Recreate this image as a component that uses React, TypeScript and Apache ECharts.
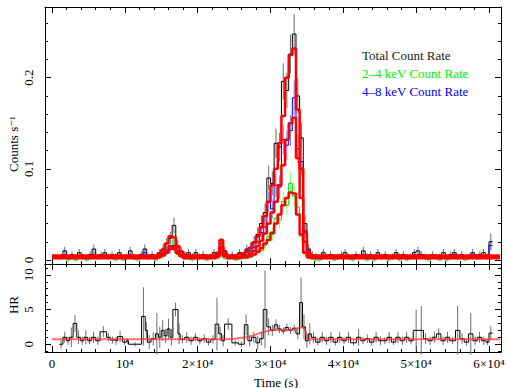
import React, { useEffect, useRef } from "react";
import * as echarts from "echarts";

// ---- light-curve binning (time grid) ----
const BIN_START = 1000;
const BIN_WIDTH = 500;

// Total count rate (counts/s) per 500 s bin
const totalRate = [
  0.004, 0.010, 0.002, 0.006, 0.002, 0.008, 0.004, 0.002, 0.006, 0.012,
  0.004, 0.006, 0.008, 0.004, 0.006, 0.004, 0.008, 0.002, 0.004, 0.010,
  0.004, 0.002, 0.006, 0.012, 0.004, 0.006, 0.002, 0.008, 0.012, 0.018,
  0.024, 0.038, 0.016, 0.010, 0.006, 0.008, 0.004, 0.008, 0.004, 0.006,
  0.002, 0.004, 0.008, 0.006, 0.018, 0.010, 0.004, 0.006, 0.004, 0.008,
  0.006, 0.012, 0.014, 0.020, 0.028, 0.040, 0.052, 0.090, 0.084, 0.128,
  0.124, 0.196, 0.186, 0.226, 0.248, 0.180, 0.134, 0.040, 0.012, 0.006,
  0.004, 0.002, 0.008, 0.004, 0.006, 0.002, 0.004, 0.006, 0.008, 0.004,
  0.002, 0.006, 0.004, 0.010, 0.004, 0.006, 0.002, 0.008, 0.004, 0.006,
  0.002, 0.004, 0.008, 0.004, 0.006, 0.002, 0.004, 0.008, 0.010, 0.006,
  0.004, 0.002, 0.006, 0.004, 0.004, 0.008, 0.002, 0.006, 0.008, 0.004,
  0.006, 0.002, 0.004, 0.008, 0.004, 0.006, 0.008, 0.004, 0.020,
];
const totalErr = [
  0.003, 0.0045, 0.002, 0.0035, 0.002, 0.004, 0.003, 0.002, 0.0035, 0.005,
  0.003, 0.0035, 0.004, 0.003, 0.0035, 0.003, 0.004, 0.002, 0.003, 0.0045,
  0.003, 0.002, 0.0035, 0.005, 0.003, 0.0035, 0.002, 0.004, 0.005, 0.006,
  0.007, 0.0087, 0.0057, 0.0045, 0.0035, 0.004, 0.003, 0.004, 0.003, 0.0035,
  0.002, 0.003, 0.004, 0.0035, 0.006, 0.0045, 0.003, 0.0035, 0.003, 0.004,
  0.0035, 0.005, 0.0053, 0.0063, 0.0075, 0.009, 0.010, 0.0134, 0.013, 0.016,
  0.0157, 0.0198, 0.0193, 0.0213, 0.022, 0.019, 0.0164, 0.009, 0.005, 0.0035,
  0.003, 0.002, 0.004, 0.003, 0.0035, 0.002, 0.003, 0.0035, 0.004, 0.003,
  0.002, 0.0035, 0.003, 0.0045, 0.003, 0.0035, 0.002, 0.004, 0.003, 0.0035,
  0.002, 0.003, 0.004, 0.003, 0.0035, 0.002, 0.003, 0.004, 0.0045, 0.0035,
  0.003, 0.002, 0.0035, 0.003, 0.003, 0.004, 0.002, 0.0035, 0.004, 0.003,
  0.0035, 0.002, 0.003, 0.004, 0.003, 0.0035, 0.004, 0.003, 0.009,
];
// 2-4 keV count rate
const softRate = [
  0.002, 0.004, 0.000, 0.002, 0.000, 0.004, 0.002, 0.000, 0.002, 0.004,
  0.002, 0.002, 0.004, 0.002, 0.002, 0.000, 0.004, 0.000, 0.002, 0.004,
  0.002, 0.000, 0.002, 0.004, 0.002, 0.002, 0.000, 0.004, 0.004, 0.008,
  0.012, 0.022, 0.006, 0.004, 0.002, 0.002, 0.000, 0.004, 0.002, 0.002,
  0.000, 0.002, 0.004, 0.002, 0.006, 0.002, 0.002, 0.002, 0.000, 0.002,
  0.002, 0.002, 0.004, 0.006, 0.008, 0.010, 0.016, 0.026, 0.028, 0.046,
  0.044, 0.064, 0.060, 0.084, 0.070, 0.058, 0.026, 0.008, 0.002, 0.002,
  0.000, 0.000, 0.004, 0.002, 0.002, 0.000, 0.002, 0.002, 0.004, 0.002,
  0.000, 0.002, 0.002, 0.004, 0.000, 0.002, 0.000, 0.004, 0.002, 0.002,
  0.000, 0.002, 0.004, 0.000, 0.002, 0.000, 0.002, 0.002, 0.004, 0.002,
  0.002, 0.000, 0.002, 0.002, 0.000, 0.004, 0.000, 0.002, 0.002, 0.002,
  0.002, 0.000, 0.002, 0.002, 0.002, 0.002, 0.004, 0.002, 0.004,
];
const softErr = [
  0.002, 0.003, 0.002, 0.002, 0.002, 0.003, 0.002, 0.002, 0.002, 0.003,
  0.002, 0.002, 0.003, 0.002, 0.002, 0.002, 0.003, 0.002, 0.002, 0.003,
  0.002, 0.002, 0.002, 0.003, 0.002, 0.002, 0.002, 0.003, 0.003, 0.004,
  0.005, 0.0066, 0.0035, 0.003, 0.002, 0.002, 0.002, 0.003, 0.002, 0.002,
  0.002, 0.002, 0.003, 0.002, 0.0035, 0.002, 0.002, 0.002, 0.002, 0.002,
  0.002, 0.002, 0.003, 0.0035, 0.004, 0.0045, 0.0057, 0.0072, 0.0075, 0.0096,
  0.0094, 0.0113, 0.011, 0.013, 0.0118, 0.0108, 0.0072, 0.004, 0.002, 0.002,
  0.002, 0.002, 0.003, 0.002, 0.002, 0.002, 0.002, 0.002, 0.003, 0.002,
  0.002, 0.002, 0.002, 0.003, 0.002, 0.002, 0.002, 0.003, 0.002, 0.002,
  0.002, 0.002, 0.003, 0.002, 0.002, 0.002, 0.002, 0.002, 0.003, 0.002,
  0.002, 0.002, 0.002, 0.002, 0.002, 0.003, 0.002, 0.002, 0.002, 0.002,
  0.002, 0.002, 0.002, 0.002, 0.002, 0.002, 0.003, 0.002, 0.003,
];
// 4-8 keV count rate
const hardRate = [
  0.002, 0.006, 0.002, 0.004, 0.002, 0.004, 0.002, 0.002, 0.004, 0.006,
  0.002, 0.004, 0.004, 0.002, 0.004, 0.004, 0.004, 0.002, 0.002, 0.006,
  0.002, 0.002, 0.004, 0.008, 0.002, 0.004, 0.002, 0.004, 0.008, 0.010,
  0.012, 0.016, 0.010, 0.006, 0.004, 0.006, 0.004, 0.004, 0.002, 0.004,
  0.002, 0.002, 0.004, 0.004, 0.012, 0.008, 0.002, 0.004, 0.004, 0.006,
  0.004, 0.010, 0.010, 0.014, 0.020, 0.030, 0.036, 0.064, 0.056, 0.082,
  0.080, 0.132, 0.126, 0.142, 0.178, 0.122, 0.108, 0.032, 0.010, 0.004,
  0.004, 0.002, 0.004, 0.002, 0.004, 0.002, 0.002, 0.004, 0.004, 0.002,
  0.002, 0.004, 0.002, 0.006, 0.004, 0.004, 0.002, 0.004, 0.002, 0.004,
  0.002, 0.002, 0.004, 0.004, 0.004, 0.002, 0.002, 0.006, 0.006, 0.004,
  0.002, 0.002, 0.004, 0.002, 0.004, 0.004, 0.002, 0.004, 0.006, 0.002,
  0.004, 0.002, 0.002, 0.006, 0.002, 0.004, 0.004, 0.002, 0.016,
];
const hardErr = [
  0.002, 0.0035, 0.002, 0.003, 0.002, 0.003, 0.002, 0.002, 0.003, 0.0035,
  0.002, 0.003, 0.003, 0.002, 0.003, 0.003, 0.003, 0.002, 0.002, 0.0035,
  0.002, 0.002, 0.003, 0.004, 0.002, 0.003, 0.002, 0.003, 0.004, 0.0045,
  0.005, 0.0057, 0.0045, 0.0035, 0.003, 0.0035, 0.003, 0.003, 0.002, 0.003,
  0.002, 0.002, 0.003, 0.003, 0.005, 0.004, 0.002, 0.003, 0.003, 0.0035,
  0.003, 0.0045, 0.0045, 0.0053, 0.0063, 0.0077, 0.0085, 0.0113, 0.0106, 0.0128,
  0.0126, 0.0162, 0.0159, 0.0169, 0.0189, 0.0156, 0.0147, 0.008, 0.0045, 0.003,
  0.003, 0.002, 0.003, 0.002, 0.003, 0.002, 0.002, 0.003, 0.003, 0.002,
  0.002, 0.003, 0.002, 0.0035, 0.003, 0.003, 0.002, 0.003, 0.002, 0.003,
  0.002, 0.002, 0.003, 0.003, 0.003, 0.002, 0.002, 0.0035, 0.0035, 0.003,
  0.002, 0.002, 0.003, 0.002, 0.003, 0.003, 0.002, 0.003, 0.0035, 0.002,
  0.003, 0.002, 0.002, 0.0035, 0.002, 0.003, 0.003, 0.002, 0.0057,
];

// Model curves (red): [time, rate] step points
const modelTotal = [
  [0, 0.005], [14500, 0.007], [15000, 0.011], [15500, 0.018], [16000, 0.026],
  [16500, 0.025], [17000, 0.015], [17500, 0.009], [18000, 0.006], [18500, 0.005],
  [22500, 0.008], [23000, 0.022], [23500, 0.008], [24000, 0.005], [25500, 0.006],
  [26000, 0.007], [26500, 0.009], [27000, 0.013], [27500, 0.019], [28000, 0.026],
  [28500, 0.036], [29000, 0.048], [29500, 0.064], [30000, 0.082], [30500, 0.100],
  [31000, 0.128], [31500, 0.158], [32000, 0.200], [32500, 0.225], [33000, 0.232],
  [33500, 0.165], [34000, 0.100], [34500, 0.030], [35000, 0.008], [35500, 0.005],
  [61500, 0.005],
];
const modelHard = [
  [0, 0.002], [14500, 0.003], [15000, 0.005], [15500, 0.008], [16000, 0.012],
  [16500, 0.012], [17000, 0.008], [17500, 0.004], [18000, 0.002], [22500, 0.004],
  [23000, 0.014], [23500, 0.005], [24000, 0.002], [26000, 0.004], [26500, 0.005],
  [27000, 0.007], [27500, 0.010], [28000, 0.015], [28500, 0.021], [29000, 0.029],
  [29500, 0.040], [30000, 0.052], [30500, 0.064], [31000, 0.082], [31500, 0.104],
  [32000, 0.132], [32500, 0.150], [33000, 0.156], [33500, 0.112], [34000, 0.068],
  [34500, 0.020], [35000, 0.005], [35500, 0.002], [61500, 0.002],
];
const modelSoft = [
  [0, 0.003], [14500, 0.004], [15000, 0.006], [15500, 0.010], [16000, 0.015],
  [16500, 0.014], [17000, 0.008], [17500, 0.005], [18000, 0.003], [22500, 0.004],
  [23000, 0.008], [23500, 0.004], [24000, 0.003], [26500, 0.003], [27000, 0.004],
  [27500, 0.006], [28000, 0.009], [28500, 0.013], [29000, 0.018], [29500, 0.022],
  [30000, 0.030], [30500, 0.040], [31000, 0.050], [31500, 0.060], [32000, 0.068],
  [32500, 0.074], [33000, 0.073], [33500, 0.050], [34000, 0.028], [34500, 0.008],
  [35000, 0.003], [61500, 0.003],
];

// Hardness ratio (variable bins): bin start, value, error
const hrStart = [
  1000, 1500, 2000, 2400, 2900, 3400, 3900, 4400, 4900, 5400,
  6000, 6600, 7500, 8000, 8600, 9000, 9700, 10200, 10500, 12300,
  12800, 13100, 13600, 14200, 14600, 15000, 15400, 15800, 16200, 16600,
  17300, 17600, 18200, 18800, 19400, 20000, 20600, 21200, 21800, 22400,
  22900, 23300, 23700, 24700, 25600, 26400, 26900, 27400, 28000, 28500,
  29000, 29500, 30000, 30500, 31000, 31500, 32000, 32500, 33000, 33500,
  34000, 34400, 34800, 35200, 35600, 36200, 36800, 37400, 38000, 38600,
  39200, 39800, 40400, 41000, 41800, 42400, 43000, 43600, 44200, 44800,
  45400, 46000, 46600, 47200, 47800, 48400, 49000, 49600, 50400, 51000,
  51600, 52200, 52800, 53400, 54000, 54600, 55400, 56000, 56600, 57200,
  57800, 58400, 59000, 59600, 60000,
];
const HR_END = 60500;
const hrValue = [
  0.0, 1.0, 0.5, 1.0, 3.0, 1.0, 0.5, 1.0, 0.5, 1.0,
  0.5, 1.8, 1.0, 0.6, 0.5, 1.1, 0.3, 0.5, 0.0, 4.0,
  2.0, 0.3, 0.8, 1.5, 1.0, 2.0, 1.2, 2.2, 1.0, 5.0,
  1.5, 0.7, 1.0, 0.5, 1.0, 0.5, 0.8, 0.3, 0.7, 2.9,
  1.5, 0.5, 2.9, 0.2, 0.0, 2.8, 0.5, 1.0, 0.2, 0.8,
  5.0, 2.5, 2.0, 2.8, 2.2, 1.9, 2.4, 2.0, 2.3, 1.5,
  6.0, 2.5, 0.5, 1.5, 1.0, 0.3, 1.0, 0.5, 1.0, 0.3,
  1.0, 0.5, 1.0, 0.2, 1.0, 0.5, 0.8, 0.3, 1.0, 0.5,
  0.5, 1.0, 0.3, 1.0, 0.5, 1.0, 0.5, 2.0, 2.0, 0.8,
  0.5, 1.0, 1.5, 0.5, 1.0, 0.5, 2.0, 0.8, 0.3, 1.5,
  0.5, 1.0, 0.5, 0.3, 1.6,
];
const hrError = [
  0.6, 0.8, 0.6, 1.4, 1.2, 1.0, 0.6, 1.0, 0.5, 0.8,
  0.6, 0.8, 0.6, 0.5, 0.6, 0.8, 0.4, 0.4, 0.3, 4.2,
  1.2, 1.0, 1.0, 3.0, 1.5, 1.5, 1.0, 1.5, 1.2, 1.0,
  1.5, 0.6, 0.8, 0.6, 0.6, 0.5, 0.6, 0.5, 0.6, 3.8,
  1.0, 0.8, 0.8, 0.4, 0.4, 1.5, 0.8, 0.8, 1.0, 1.0,
  5.6, 1.2, 0.8, 0.8, 0.6, 0.5, 0.6, 0.5, 0.5, 0.8,
  3.6, 1.8, 1.0, 1.5, 0.8, 0.5, 0.8, 0.6, 0.8, 0.5,
  0.8, 0.5, 0.8, 0.4, 1.2, 0.5, 0.6, 0.5, 0.8, 0.6,
  0.5, 0.8, 0.4, 0.8, 0.6, 0.8, 0.5, 3.0, 3.5, 0.8,
  0.6, 0.8, 0.8, 0.6, 0.8, 0.5, 3.5, 0.8, 0.5, 3.0,
  0.6, 0.8, 0.6, 0.4, 1.0,
];
const hrModel = [
  [0, 0.7], [24000, 0.7], [25000, 0.8], [26000, 0.92], [26700, 1.0],
  [27500, 1.2], [28500, 1.6], [29500, 1.9], [30000, 2.0], [31500, 2.05],
  [33000, 2.1], [34000, 2.4], [34500, 2.4], [34800, 2.0], [35000, 0.9],
  [35300, 0.7], [61500, 0.7],
];

// Axes / ticks
const X_MIN = -961;
const X_MAX = 61650;
const xMajor = [0, 10000, 20000, 30000, 40000, 50000, 60000];
const xTickLabels = ["0", "10\u2074", "2\u00d710\u2074", "3\u00d710\u2074", "4\u00d710\u2074", "5\u00d710\u2074", "6\u00d710\u2074"];
const yTopMajor = [0, 0.1, 0.2];
const yTopLabels = ["0", "0.1", "0.2"];
const yBotMajor = [0, 5, 10];
const yBotLabels = ["0", "5", "10"];

const legendItems = [
  { text: "Total Count Rate", color: "#1a1a1a" },
  { text: "2\u20134 keV Count Rate", color: "#00ee00" },
  { text: "4\u20138 keV Count Rate", color: "#0000ff" },
];

const FONT = "Liberation Serif, DejaVu Serif, serif";

function minorList(step: number, lo: number, hi: number, majors: number[]) {
  const out: number[] = [];
  for (let k = Math.ceil(lo / step); k * step <= hi + 1e-9; k++) {
    const v = +(k * step).toFixed(6);
    if (!majors.some((m) => Math.abs(m - v) < 1e-9)) out.push(v);
  }
  return out;
}

function binnedStep(values: number[]) {
  const pts: number[][] = values.map((v, i) => [BIN_START + i * BIN_WIDTH, v]);
  pts.push([BIN_START + values.length * BIN_WIDTH, values[values.length - 1]]);
  return pts;
}
function binnedErr(values: number[], errs: number[]) {
  return values.map((v, i) => [BIN_START + (i + 0.5) * BIN_WIDTH, v - errs[i], v + errs[i]]);
}

export default function App() {
  const ref = useRef<HTMLDivElement>(null);
  useEffect(() => {
    if (!ref.current) return;
    const chart = echarts.init(ref.current, undefined, { renderer: "svg" });

    const xMinor = minorList(2000, X_MIN, X_MAX, xMajor);
    const yTopMinor = minorList(0.02, -0.0044, 0.2776, yTopMajor);
    const yBotMinor = minorList(1, -1.12, 11.56, yBotMajor);

    const makeX = (g: number, labels: boolean) => {
      const base = {
        type: "value",
        gridIndex: g,
        min: X_MIN,
        max: X_MAX,
        splitLine: { show: false },
      };
      return [
        {
          ...base,
          position: "bottom",
          axisLine: { show: true, onZero: false, lineStyle: { color: "#000", width: 1 } },
          axisTick: { show: true, inside: true, length: 6, customValues: xMajor, lineStyle: { color: "#000" } },
          axisLabel: labels
            ? {
                show: true,
                customValues: xMajor,
                margin: 5,
                color: "#000",
                fontFamily: FONT,
                fontSize: 13,
                formatter: (v: number) => {
                  const i = xMajor.findIndex((m) => Math.abs(m - v) < 1e-6);
                  return i >= 0 ? xTickLabels[i] : "";
                },
              }
            : { show: false },
        },
        {
          ...base,
          position: "top",
          axisLine: { show: true, onZero: false, lineStyle: { color: "#000", width: 1 } },
          axisTick: { show: true, inside: true, length: 6, customValues: xMajor, lineStyle: { color: "#000" } },
          axisLabel: { show: false },
        },
        {
          ...base,
          position: "bottom",
          axisLine: { show: false, onZero: false },
          axisTick: { show: true, inside: true, length: 3, customValues: xMinor, lineStyle: { color: "#000" } },
          axisLabel: { show: false },
        },
        {
          ...base,
          position: "top",
          axisLine: { show: false, onZero: false },
          axisTick: { show: true, inside: true, length: 3, customValues: xMinor, lineStyle: { color: "#000" } },
          axisLabel: { show: false },
        },
      ];
    };

    const makeY = (g: number, min: number, max: number, majors: number[], labels: string[], minors: number[]) => {
      const base = { type: "value", gridIndex: g, min, max, splitLine: { show: false } };
      return [
        {
          ...base,
          position: "left",
          axisLine: { show: true, onZero: false, lineStyle: { color: "#000", width: 1 } },
          axisTick: { show: true, inside: true, length: 6, customValues: majors, lineStyle: { color: "#000" } },
          axisLabel: {
            show: true,
            customValues: majors,
            rotate: 90,
            margin: 10,
            color: "#000",
            fontFamily: FONT,
            fontSize: 13,
            formatter: (v: number) => {
              const i = majors.findIndex((m) => Math.abs(m - v) < 1e-9);
              return i >= 0 ? labels[i] : "";
            },
          },
        },
        {
          ...base,
          position: "right",
          axisLine: { show: true, onZero: false, lineStyle: { color: "#000", width: 1 } },
          axisTick: { show: true, inside: true, length: 6, customValues: majors, lineStyle: { color: "#000" } },
          axisLabel: { show: false },
        },
        {
          ...base,
          position: "left",
          axisLine: { show: false, onZero: false },
          axisTick: { show: true, inside: true, length: 3, customValues: minors, lineStyle: { color: "#000" } },
          axisLabel: { show: false },
        },
        {
          ...base,
          position: "right",
          axisLine: { show: false, onZero: false },
          axisTick: { show: true, inside: true, length: 3, customValues: minors, lineStyle: { color: "#000" } },
          axisLabel: { show: false },
        },
      ];
    };

    const errSeries = (data: number[][], color: string, xi: number, yi: number) => ({
      type: "custom",
      xAxisIndex: xi,
      yAxisIndex: yi,
      silent: true,
      encode: { x: 0, y: [1, 2] },
      data,
      renderItem: (_p: any, api: any) => {
        const x = api.value(0);
        const a = api.coord([x, api.value(1)]);
        const b = api.coord([x, api.value(2)]);
        return {
          type: "line",
          shape: { x1: a[0], y1: a[1], x2: b[0], y2: b[1] },
          style: { stroke: color, lineWidth: 1 },
        };
      },
    });
    const stepSeries = (data: number[][], color: string, width: number, xi: number, yi: number, step: any = "end", opacity = 1) => ({
      type: "line",
      xAxisIndex: xi,
      yAxisIndex: yi,
      silent: true,
      step,
      symbol: "none",
      showSymbol: false,
      data,
      lineStyle: { color, width, opacity },
      itemStyle: { color },
    });

    const hrSteps: number[][] = hrStart.map((s, i) => [s, hrValue[i]]);
    hrSteps.push([HR_END, hrValue[hrValue.length - 1]]);
    const hrErrs = hrStart.map((s, i) => {
      const e = i + 1 < hrStart.length ? hrStart[i + 1] : HR_END;
      return [(s + e) / 2, hrValue[i] - hrError[i], hrValue[i] + hrError[i]];
    });

    const textStyle = (text: string, fill: string, extra: any = {}) => ({
      text,
      fill,
      fontFamily: FONT,
      fontSize: 13,
      ...extra,
    });

    const option: any = {
      animation: false,
      backgroundColor: "#fff",
      textStyle: { fontFamily: FONT },
      grid: [
        { left: 45, top: 7, width: 456, height: 257, containLabel: false },
        { left: 45, top: 264, width: 456, height: 88, containLabel: false },
      ],
      xAxis: [...makeX(0, false), ...makeX(1, true)],
      yAxis: [
        ...makeY(0, -0.0044, 0.2776, yTopMajor, yTopLabels, yTopMinor),
        ...makeY(1, -1.12, 11.56, yBotMajor, yBotLabels, yBotMinor),
      ],
      series: [
        errSeries(binnedErr(totalRate, totalErr), "#6f6f6f", 0, 0),
        stepSeries(binnedStep(totalRate), "#000", 1, 0, 0),
        errSeries(binnedErr(softRate, softErr), "#7dff7d", 0, 0),
        stepSeries(binnedStep(softRate), "#00e000", 1, 0, 0),
        errSeries(binnedErr(hardRate, hardErr), "#7d7dff", 0, 0),
        stepSeries(binnedStep(hardRate), "#0000ff", 1, 0, 0),
        stepSeries(modelSoft, "#ff0000", 2.5, 0, 0),
        stepSeries(modelHard, "#ff0000", 2.5, 0, 0),
        stepSeries(modelTotal, "#ff0000", 2.5, 0, 0),
        errSeries(hrErrs, "#6f6f6f", 4, 4),
        stepSeries(hrSteps, "#000", 1, 4, 4),
        stepSeries(hrModel, "#ff3030", 2, 4, 4, false, 0.7),
      ],
      graphic: [
        ...legendItems.map((it, i) => ({
          type: "text",
          x: 362,
          y: 55 + i * 18,
          style: textStyle(it.text, it.color, { verticalAlign: "middle" }),
        })),
        {
          type: "text",
          x: 13,
          y: 144,
          rotation: Math.PI / 2,
          style: textStyle("Counts s\u207b\u00b9", "#000", { align: "center", verticalAlign: "middle" }),
        },
        {
          type: "text",
          x: 13,
          y: 305,
          rotation: Math.PI / 2,
          style: textStyle("HR", "#000", { align: "center", verticalAlign: "middle" }),
        },
        {
          type: "text",
          x: 276,
          y: 382,
          style: textStyle("Time (s)", "#000", { align: "center", verticalAlign: "middle" }),
        },
      ],
    };
    chart.setOption(option);
    return () => chart.dispose();
  }, []);
  return <div ref={ref} style={{ position: "fixed", left: 0, top: 0, width: 509, height: 388, background: "#fff" }} />;
}
